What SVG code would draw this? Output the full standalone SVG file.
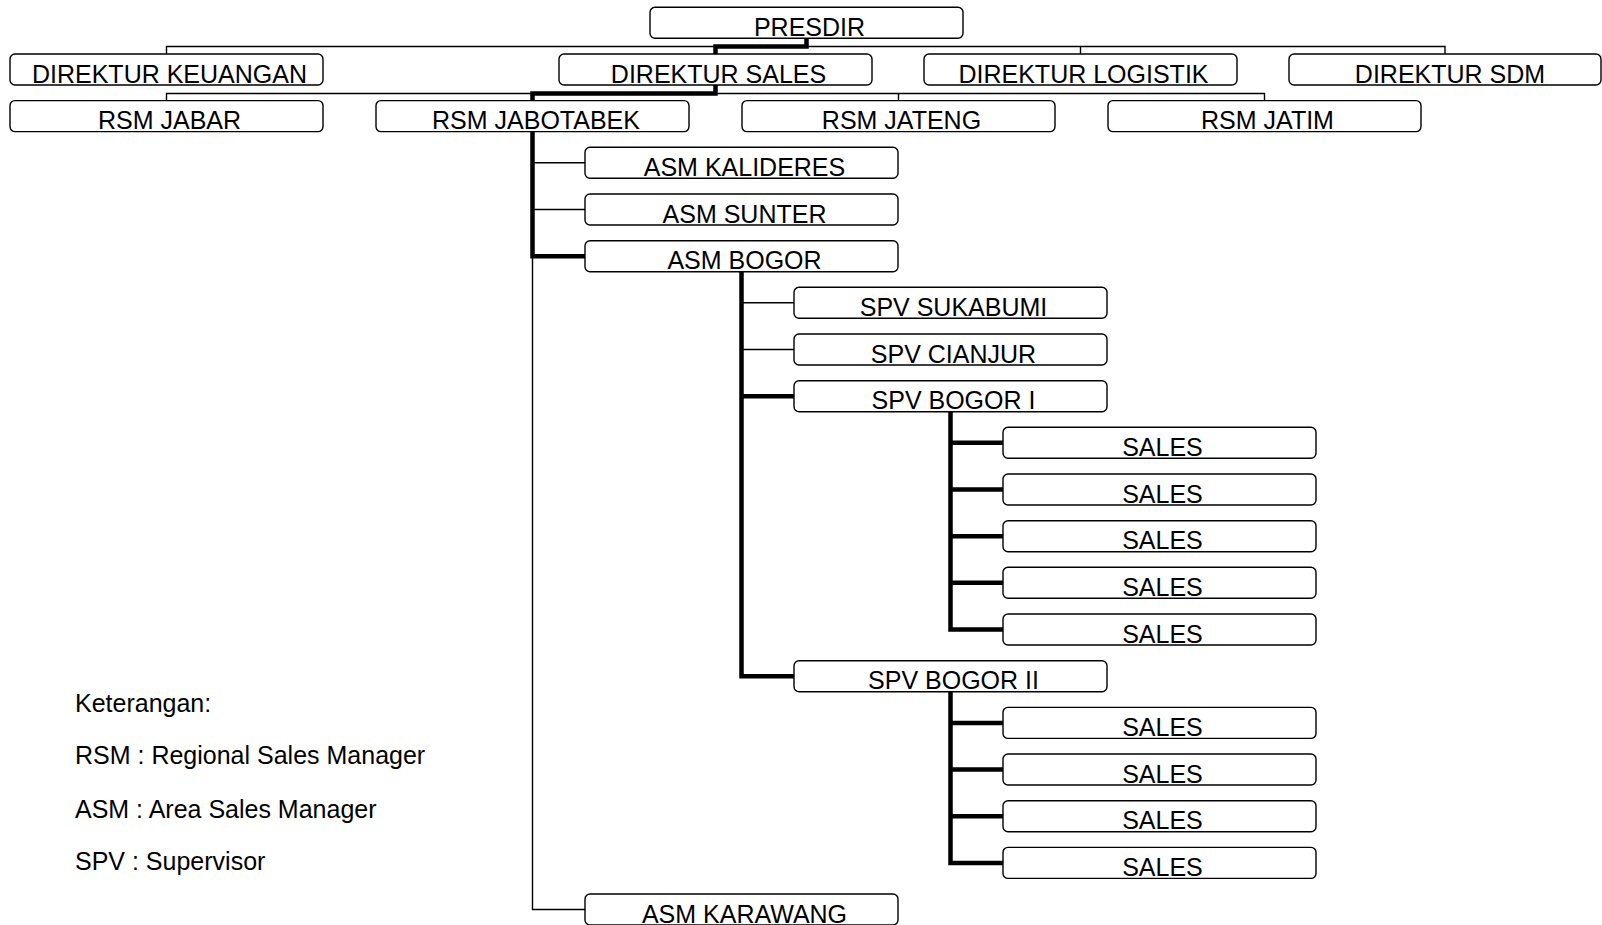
<svg xmlns="http://www.w3.org/2000/svg" width="1602" height="925" viewBox="0 0 1602 925">
<style>
.box{fill:none;stroke:#000;stroke-width:1.4}
.t{font-family:"Liberation Sans",Arial,sans-serif;font-size:25px;fill:#000;text-anchor:middle}
.lg{font-family:"Liberation Sans",Arial,sans-serif;font-size:25px;fill:#000}
.thin{fill:none;stroke:#000;stroke-width:1.4}
.thick{fill:none;stroke:#000;stroke-width:4.5;stroke-linejoin:miter;stroke-linecap:butt}
</style>
<rect width="1602" height="925" fill="#fff"/>
<g id="connectors">
<path class="thin" d="M166.5 54 V46.5 H1445 V54 M1080.5 46.5 V54"/>
<path class="thin" d="M166.5 100.6 V93.5 H1264.5 V100.6 M898.5 93.5 V100.6"/>
<path class="thin" d="M532.5 256 V909.5 H585 M532.5 162.8 H585 M532.5 209.5 H585"/>
<path class="thin" d="M741.5 302.8 H794 M741.5 349.5 H794"/>
<path class="thick" d="M806.5 38.3 V46.5 H715.5 V54"/>
<path class="thick" d="M715.5 85 V93.5 H532.5 V100.6 M532.5 131.6 V256.2 H585"/>
<path class="thick" d="M741.5 271.7 V676.2 H794 M741.5 396.2 H794"/>
<path class="thick" d="M950.5 411.7 V629.5 H1003 M950.5 442.8 H1003 M950.5 489.5 H1003 M950.5 536.2 H1003 M950.5 582.8 H1003"/>
<path class="thick" d="M950.5 691.7 V862.9 H1003 M950.5 722.9 H1003 M950.5 769.5 H1003 M950.5 816.2 H1003"/>
</g>
<g id="presdir"><rect class="box" x="650" y="7.3" width="313" height="31" rx="5"/><text class="t" x="809.5" y="35.8">PRESDIR</text></g>
<g id="dir-keuangan"><rect class="box" x="10" y="54" width="313" height="31" rx="5"/><text class="t" x="169.5" y="82.5">DIREKTUR KEUANGAN</text></g>
<g id="dir-sales"><rect class="box" x="559" y="54" width="313" height="31" rx="5"/><text class="t" x="718.5" y="82.5">DIREKTUR SALES</text></g>
<g id="dir-logistik"><rect class="box" x="924" y="54" width="313" height="31" rx="5"/><text class="t" x="1083.5" y="82.5">DIREKTUR LOGISTIK</text></g>
<g id="dir-sdm"><rect class="box" x="1289" y="54" width="312" height="31" rx="5"/><text class="t" x="1450" y="82.5">DIREKTUR SDM</text></g>
<g id="rsm-jabar"><rect class="box" x="10" y="100.6" width="313" height="31" rx="5"/><text class="t" x="169.5" y="129.1">RSM JABAR</text></g>
<g id="rsm-jabotabek"><rect class="box" x="376" y="100.6" width="313" height="31" rx="5"/><text class="t" x="536" y="129.1">RSM JABOTABEK</text></g>
<g id="rsm-jateng"><rect class="box" x="742" y="100.6" width="313" height="31" rx="5"/><text class="t" x="901.5" y="129.1">RSM JATENG</text></g>
<g id="rsm-jatim"><rect class="box" x="1108" y="100.6" width="313" height="31" rx="5"/><text class="t" x="1267.5" y="129.1">RSM JATIM</text></g>
<g id="asm-kalideres"><rect class="box" x="585" y="147.3" width="313" height="31" rx="5"/><text class="t" x="744.5" y="175.8">ASM KALIDERES</text></g>
<g id="asm-sunter"><rect class="box" x="585" y="194" width="313" height="31" rx="5"/><text class="t" x="744.5" y="222.5">ASM SUNTER</text></g>
<g id="asm-bogor"><rect class="box" x="585" y="240.7" width="313" height="31" rx="5"/><text class="t" x="744.5" y="269.2">ASM BOGOR</text></g>
<g id="spv-sukabumi"><rect class="box" x="794" y="287.3" width="313" height="31" rx="5"/><text class="t" x="953.5" y="315.8">SPV SUKABUMI</text></g>
<g id="spv-cianjur"><rect class="box" x="794" y="334" width="313" height="31" rx="5"/><text class="t" x="953.5" y="362.5">SPV CIANJUR</text></g>
<g id="spv-bogor-1"><rect class="box" x="794" y="380.7" width="313" height="31" rx="5"/><text class="t" x="953.5" y="409.2">SPV BOGOR I</text></g>
<g id="sales-1"><rect class="box" x="1003" y="427.3" width="313" height="31" rx="5"/><text class="t" x="1162.5" y="455.8">SALES</text></g>
<g id="sales-2"><rect class="box" x="1003" y="474" width="313" height="31" rx="5"/><text class="t" x="1162.5" y="502.5">SALES</text></g>
<g id="sales-3"><rect class="box" x="1003" y="520.7" width="313" height="31" rx="5"/><text class="t" x="1162.5" y="549.2">SALES</text></g>
<g id="sales-4"><rect class="box" x="1003" y="567.3" width="313" height="31" rx="5"/><text class="t" x="1162.5" y="595.8">SALES</text></g>
<g id="sales-5"><rect class="box" x="1003" y="614" width="313" height="31" rx="5"/><text class="t" x="1162.5" y="642.5">SALES</text></g>
<g id="spv-bogor-2"><rect class="box" x="794" y="660.7" width="313" height="31" rx="5"/><text class="t" x="953.5" y="689.2">SPV BOGOR II</text></g>
<g id="sales-6"><rect class="box" x="1003" y="707.4" width="313" height="31" rx="5"/><text class="t" x="1162.5" y="735.9">SALES</text></g>
<g id="sales-7"><rect class="box" x="1003" y="754" width="313" height="31" rx="5"/><text class="t" x="1162.5" y="782.5">SALES</text></g>
<g id="sales-8"><rect class="box" x="1003" y="800.7" width="313" height="31" rx="5"/><text class="t" x="1162.5" y="829.2">SALES</text></g>
<g id="sales-9"><rect class="box" x="1003" y="847.4" width="313" height="31" rx="5"/><text class="t" x="1162.5" y="875.9">SALES</text></g>
<g id="asm-karawang"><rect class="box" x="585" y="894" width="313" height="31" rx="5"/><text class="t" x="744.5" y="922.5">ASM KARAWANG</text></g>
<g id="legend">
<text class="lg" x="75" y="711.7">Keterangan:</text>
<text class="lg" x="75" y="764.3">RSM : Regional Sales Manager</text>
<text class="lg" x="75" y="818.3">ASM : Area Sales Manager</text>
<text class="lg" x="75" y="870">SPV : Supervisor</text>
</g>
</svg>
